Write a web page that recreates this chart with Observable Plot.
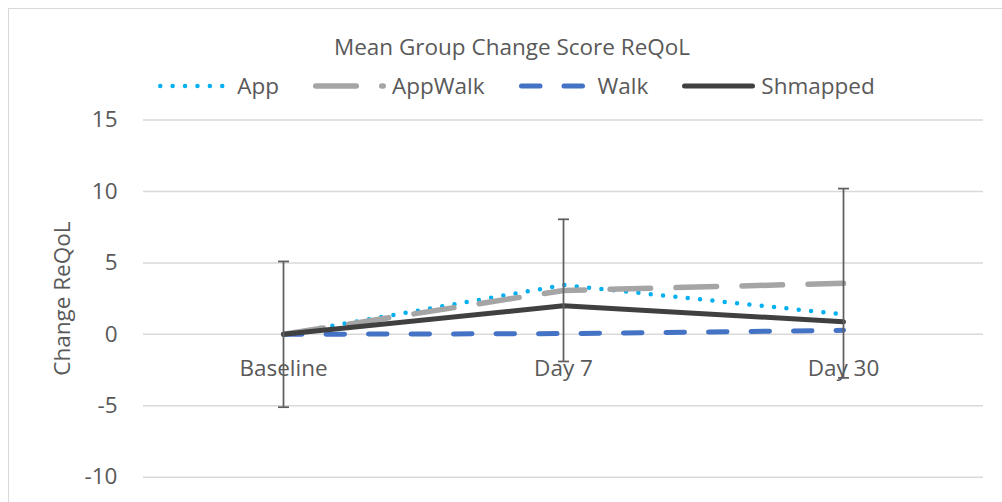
<!DOCTYPE html>
<html>
<head>
<meta charset="utf-8">
<script src="https://cdn.jsdelivr.net/npm/d3@7"></script>
<script src="https://cdn.jsdelivr.net/npm/@observablehq/plot@0.6"></script>
<style>
  html, body { margin: 0; padding: 0; background: #fff; overflow: hidden; width: 1002px; height: 502px; }
  #wrap { position: relative; width: 1002px; height: 502px; font-family: "Open Sans", sans-serif; color: #595959; overflow: hidden; }
  #frame { position: absolute; left: 8px; top: 8px; width: 1010px; height: 520px; border: 1.5px solid #d9d9d9; box-sizing: border-box; }
  #title { position: absolute; top: 31px; left: 0; width: 1024px; text-align: center; font-size: 22.5px; line-height: 32px; white-space: nowrap; }
  #legend { position: absolute; top: 70px; left: 0; width: 1033px; display: flex; justify-content: center; align-items: center; gap: 34px; font-size: 22.5px; line-height: 32px; white-space: nowrap; }
  .item { display: flex; align-items: center; }
  .item svg { margin-right: 6px; }
  #chart { position: absolute; left: 0; top: 0; }
</style>
</head>
<body>
<div id="wrap">
  <div id="frame"></div>
  <div id="title"></div>
  <div id="legend"></div>
  <div id="chart"></div>
</div>
<script>
// ---- data ----
const categories = ["Baseline", "Day 7", "Day 30"];
const seriesNames = ["App", "AppWalk", "Walk", "Shmapped"];
const appValues = [0, 3.45, 1.4];
const appWalkValues = [0, 3.07, 3.57];
const walkValues = [0, 0.05, 0.28];
const shmappedValues = [0, 2.0, 0.88];
const errorLow = [-5.1, -1.9, -3.05];
const errorHigh = [5.1, 8.05, 10.2];
const yTickValues = [-10, -5, 0, 5, 10, 15];
const titleText = "Mean Group Change Score ReQoL";
const yLabelText = "Change ReQoL";

// ---- styles ----
const seriesValues = { App: appValues, AppWalk: appWalkValues, Walk: walkValues, Shmapped: shmappedValues };
const seriesStyle = {
  App:      { stroke: "#00B0F0", strokeWidth: 4.5, dash: "0 12.4" },
  AppWalk:  { stroke: "#A5A5A5", strokeWidth: 5.5, dash: "40.5 25.5" },
  Walk:     { stroke: "#4472C4", strokeWidth: 5,   dash: "18.5 24" },
  Shmapped: { stroke: "#404040", strokeWidth: 5,   dash: null }
};
const textColor = "#595959";

document.getElementById("title").textContent = titleText;

// legend
const legend = document.getElementById("legend");
for (const name of seriesNames) {
  const s = seriesStyle[name];
  const item = document.createElement("div");
  item.className = "item";
  const ns = "http://www.w3.org/2000/svg";
  const svg = document.createElementNS(ns, "svg");
  svg.setAttribute("width", 73);
  svg.setAttribute("height", 12);
  const line = document.createElementNS(ns, "line");
  line.setAttribute("x1", s.strokeWidth / 2);
  line.setAttribute("x2", 73 - s.strokeWidth / 2);
  line.setAttribute("y1", 6);
  line.setAttribute("y2", 6);
  line.setAttribute("stroke", s.stroke);
  line.setAttribute("stroke-width", s.strokeWidth);
  line.setAttribute("stroke-linecap", "round");
  if (s.dash) line.setAttribute("stroke-dasharray", s.dash);
  svg.appendChild(line);
  item.appendChild(svg);
  const label = document.createElement("span");
  label.textContent = name;
  item.appendChild(label);
  legend.appendChild(item);
}

// rows
const lineMarks = seriesNames.map(name => {
  const s = seriesStyle[name];
  const rows = categories.map((c, i) => ({ cat: c, value: seriesValues[name][i] }));
  return Plot.line(rows, {
    x: "cat", y: "value",
    stroke: s.stroke, strokeWidth: s.strokeWidth,
    strokeLinecap: "round", strokeLinejoin: "round",
    strokeDasharray: s.dash || undefined
  });
});

const errRows = categories.map((c, i) => ({ cat: c, lo: errorLow[i], hi: errorHigh[i] }));
const capSymbol = {
  draw(context, size) {
    const h = Math.sqrt(size / Math.PI);
    context.moveTo(-h, 0);
    context.lineTo(h, 0);
  }
};

const chart = Plot.plot({
  width: 1002,
  height: 502,
  marginTop: 119.5,
  marginBottom: 25.3,
  marginLeft: 143,
  marginRight: 19,
  style: { fontFamily: "'Open Sans', sans-serif", fontSize: "22.5px", color: textColor, background: "transparent", overflow: "visible" },
  x: { type: "point", domain: categories, padding: 0.5, axis: null },
  y: { domain: [-10, 15], axis: null },
  marks: [
    Plot.gridY(yTickValues, { stroke: "#d9d9d9", strokeOpacity: 1, strokeWidth: 1.5 }),
    Plot.axisY(yTickValues, { tickSize: 0, tickPadding: 26, fill: textColor, fontSize: 22.5, label: null, tickFormat: d => String(d) }),
    Plot.text(categories, { x: d => d, y: 0, dy: 34, fill: textColor, fontSize: 22.5 }),
    Plot.text([yLabelText], { frameAnchor: "left", textAnchor: "middle", dx: -81, rotate: -90, fill: textColor, fontSize: 22.5 }),
    ...lineMarks,
    Plot.ruleX(errRows, { x: "cat", y1: "lo", y2: "hi", stroke: "#5f5f5f", strokeWidth: 1.75 }),
    Plot.dot(errRows, { x: "cat", y: "lo", symbol: capSymbol, r: 5.5, stroke: "#5f5f5f", strokeWidth: 1.75, fill: "none" }),
    Plot.dot(errRows, { x: "cat", y: "hi", symbol: capSymbol, r: 5.5, stroke: "#5f5f5f", strokeWidth: 1.75, fill: "none" })
  ]
});
document.getElementById("chart").appendChild(chart);
</script>
</body>
</html>
